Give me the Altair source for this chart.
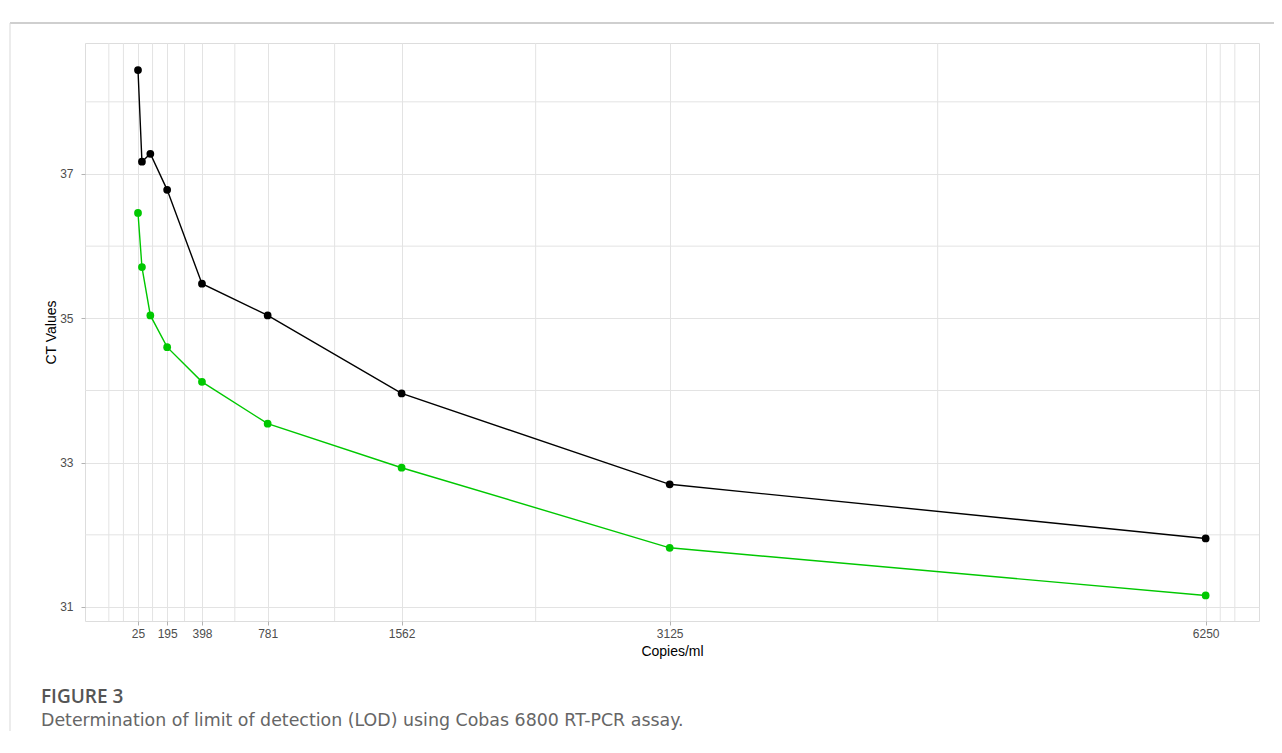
import altair as alt
import pandas as pd

# ---- data ----
copies = [25, 48, 97, 195, 398, 781, 1562, 3125, 6250]
ct_black = [38.44, 37.17, 37.28, 36.78, 35.48, 35.04, 33.96, 32.70, 31.95]
ct_green = [36.46, 35.71, 35.04, 34.60, 34.12, 33.54, 32.93, 31.82, 31.16]
series_names = ["Target 1", "Target 2"]
series_colors = ["#000000", "#00C800"]

x_breaks = [25, 195, 398, 781, 1562, 3125, 6250]
x_minor = [-145, -60, 110, 296.5, 589.5, 1171.5, 2343.5, 4687.5, 6335, 6420]
y_breaks = [31, 33, 35, 37]
y_minor = [32, 34, 36, 38]

x_domain = [-284, 6561]
y_domain = [30.806, 38.815]

caption_head = "FIGURE 3"
caption_text = "Determination of limit of detection (LOD) using Cobas 6800 RT-PCR assay."

df = pd.DataFrame({
    "copies": copies * 2,
    "ct": ct_black + ct_green,
    "series": [series_names[0]] * len(copies) + [series_names[1]] * len(copies),
})

W, H = 1174, 578
GRID = "#E3E3E3"

xs = alt.Scale(domain=x_domain, nice=False, zero=False)
ys = alt.Scale(domain=y_domain, nice=False, zero=False)

x_axis = alt.Axis(values=x_breaks, format="d", grid=True, gridColor=GRID, domain=False,
                  tickColor="#B3B3B3", tickSize=4, labelPadding=3,
                  labelFont="Liberation Sans", labelFontSize=12, labelColor="#4D4D4D",
                  titleFont="Liberation Sans", titleFontSize=14, titleFontWeight="normal",
                  titleColor="#000000", titlePadding=5, labelFlush=False)
y_axis = alt.Axis(values=y_breaks, format="d", grid=True, gridColor=GRID, domain=False,
                  tickColor="#B3B3B3", tickSize=4, labelPadding=8,
                  labelFont="Liberation Sans", labelFontSize=12, labelColor="#4D4D4D",
                  titleFont="Liberation Sans", titleFontSize=14, titleFontWeight="normal",
                  titleColor="#000000", titlePadding=1, labelFlush=False)

color = alt.Color("series:N", scale=alt.Scale(domain=series_names, range=series_colors), legend=None)

base = alt.Chart(df).encode(
    x=alt.X("copies:Q", scale=xs, title="Copies/ml", axis=x_axis),
    y=alt.Y("ct:Q", scale=ys, title="CT Values", axis=y_axis),
    color=color,
)

lines = base.mark_line(strokeWidth=1.4)
points = base.mark_point(filled=True, size=60, opacity=1)

minor_x = alt.Chart(pd.DataFrame({"v": x_minor})).mark_rule(
    color=GRID, strokeWidth=1
).encode(x=alt.X("v:Q", scale=xs, title="Copies/ml", axis=x_axis))

minor_y = alt.Chart(pd.DataFrame({"v": y_minor})).mark_rule(
    color=GRID, strokeWidth=1
).encode(y=alt.Y("v:Q", scale=ys, title="CT Values", axis=y_axis))

one = pd.DataFrame({"a": [0]})
top_border = alt.Chart(one).mark_rule(color="#CFCFCF", strokeWidth=2).encode(
    x=alt.value(-75), x2=alt.value(1200), y=alt.value(-20))
left_border = alt.Chart(one).mark_rule(color="#D9D9D9", strokeWidth=1).encode(
    x=alt.value(-75), y=alt.value(-20), y2=alt.value(700))

head = alt.Chart(one).mark_text(
    text=caption_head, align="left", baseline="alphabetic",
    font="Open Sans", fontSize=19, fontWeight=600, color="#555555"
).encode(x=alt.value(-44), y=alt.value(660))
cap = alt.Chart(one).mark_text(
    text=caption_text, align="left", baseline="alphabetic",
    font="DejaVu Sans", fontSize=17.4, color="#666666"
).encode(x=alt.value(-44), y=alt.value(683))

chart = alt.layer(
    base.mark_line(strokeWidth=0, opacity=0), minor_x, minor_y, lines, points,
    top_border, left_border, head, cap
).properties(
    width=W, height=H,
    autosize=alt.AutoSizeParams(type="none"),
    padding={"left": 77, "top": 35, "right": 15, "bottom": 110},
).configure_view(
    stroke="#B3B3B3", strokeWidth=1
).configure(background="white")

chart.save("out.html", embed_options={"renderer": "svg", "actions": False})
